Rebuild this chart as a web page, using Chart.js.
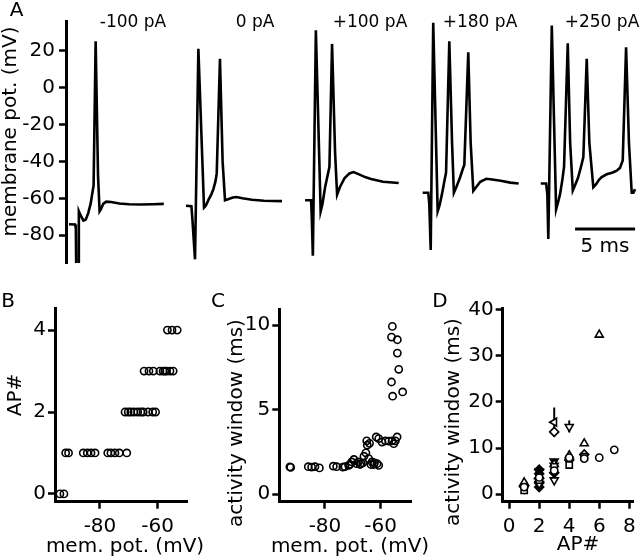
<!DOCTYPE html>
<html><head><meta charset="utf-8">
<script src="https://cdn.jsdelivr.net/npm/chart.js@4"></script>
<style>
html,body{margin:0;padding:0;background:#fff;}
#wrap{position:relative;width:640px;height:559px;overflow:hidden;background:#fff;}
#wrap canvas{position:absolute;left:0;top:0;width:640px;height:559px;}
</style></head><body>
<div id="wrap">
<canvas id="cA" width="640" height="559"></canvas>
<canvas id="cB" width="640" height="559"></canvas>
<canvas id="cC" width="640" height="559"></canvas>
<canvas id="cD" width="640" height="559"></canvas>
</div>
<script>
// ---------------- DATA ----------------
// Panel A: membrane potential traces (time in ms from sweep start, mV)
const currents = ['-100 pA', '0 pA', '+100 pA', '+180 pA', '+250 pA'];
const sweepStartMs = [0.25, 10.0, 19.92, 29.72, 39.56];
const trace1 = [[0,-74],[0.5,-74.2],[0.57,-76],[0.62,-110],[0.78,-110],[0.82,-67],[0.95,-69],[1.2,-72],[1.4,-71.5],[1.6,-68],[1.8,-63],[1.95,-57],[2.05,-53],[2.22,25],[2.42,-48],[2.55,-67],[2.65,-66],[2.85,-63],[3.1,-61.8],[3.5,-62],[4.2,-62.8],[5,-63.2],[6,-63.3],[7,-63.2],[7.9,-63]];
const trace2 = [[0,-64],[0.45,-64.3],[0.52,-70],[0.75,-93],[1.03,21],[1.5,-65],[1.65,-64],[1.86,-61],[2.1,-58],[2.28,-55],[2.45,-51],[2.56,-46.5],[2.83,15.5],[3.05,-40],[3.25,-61],[3.5,-60.5],[3.9,-59.5],[4.2,-59.3],[4.7,-60],[5.5,-60.8],[6.5,-61.3],[8,-61.5]];
const trace3 = [[0,-61],[0.5,-61],[0.55,-68],[0.65,-91],[0.9,31],[1.3,-67],[1.45,-63],[1.67,-54],[1.9,-47],[2.03,-43],[2.25,23.6],[2.5,-35],[2.67,-58],[2.9,-54],[3.3,-49],[3.7,-46.5],[4.03,-45.8],[4.5,-47],[5.0,-48.5],[5.5,-49.5],[6.5,-51],[7.8,-51.7]];
const trace4 = [[0,-57],[0.47,-57],[0.55,-63],[0.67,-88],[0.88,35],[1.25,-67],[1.4,-64],[1.6,-58],[1.8,-51],[1.95,-46],[2.22,25],[2.45,-30],[2.6,-57],[2.8,-54],[3.1,-49],[3.35,-44],[3.47,-42],[3.8,19],[4.0,-30],[4.22,-56],[4.45,-54],[4.8,-51],[5.3,-49.4],[5.8,-49.8],[6.5,-50.5],[7.3,-51.5],[8.0,-52]];
const trace5 = [[0,-52],[0.45,-52],[0.55,-58],[0.63,-82],[0.92,33.5],[1.28,-66],[1.45,-62],[1.6,-58],[1.8,-50],[1.94,-43],[2.25,24],[2.45,-30],[2.67,-55.7],[2.85,-53],[3.1,-49],[3.35,-43],[3.55,-37.7],[3.83,15.5],[4.05,-30],[4.38,-54],[4.6,-52.5],[4.85,-50],[5.08,-48.5],[5.5,-47],[6.0,-46],[6.33,-45],[6.6,-43.5],[6.83,-39.5],[7.11,21.8],[7.35,-30],[7.58,-57],[7.72,-57],[7.86,-55]];
const traces = [trace1, trace2, trace3, trace4, trace5];
const scaleBarMs = 5;
const scaleBarStartMs = 42.42;
const scaleBarMv = -76.6;
const aTicks = [-80, -60, -40, -20, 0, 20];

// Panel B: AP count vs membrane potential
const bVm = [-93.9,-92.5, -91.9,-90.9,-85.8,-84.4,-83.1,-81.7,-77.3,-76.2,-74.8,-73.3,-70.7, -71.3,-70.2,-69.3,-68.2,-66.9,-65.8,-65.0,-63.3,-61.7,-60.7, -64.7,-63.0,-61.5,-59.2,-58.1,-56.9,-55.7,-54.6,-57.5, -56.6,-55.0,-53.2];
const bAP = [0,0, 1,1,1,1,1,1,1,1,1,1,1, 2,2,2,2,2,2,2,2,2,2, 3,3,3,3,3,3,3,3,3, 4,4,4];

// Panel C: activity window vs membrane potential
const cVm = [-92.6,-92.3,-86.0,-84.8,-83.6,-82.0,-77.0,-75.8,-73.6,-72.8,-71.5,-71.0,-70.4,-69.6,-68.6,-68.0,-67.4,-67.0,-66.4,-66.0,-65.3,-64.8,-65.0,-64.0,-64.3,-63.5,-63.1,-62.5,-62.2,-61.3,-60.7,-61.6,-60.7,-59.5,-58.3,-57.1,-55.9,-55.3,-54.7,-54.1,-55.8,-56.1,-54.0,-54.0,-53.5,-56.1,-55.7,-52.1];
const cWin = [1.61,1.58,1.62,1.6,1.62,1.55,1.65,1.62,1.6,1.62,1.7,1.75,1.9,2.05,1.8,1.9,1.75,1.8,1.85,2.24,2.44,2.89,3.15,3.0,2.1,1.75,1.9,1.75,1.85,1.8,1.7,3.38,3.28,3.08,3.15,3.13,3.15,2.98,3.15,3.38,9.92,9.29,9.13,8.34,7.38,6.63,5.79,6.04];

// Panel D: activity window vs AP#, one series per cell (marker type)
const dCircleX = [1,2,3,4,5,6,7];       const dCircleY = [1.5,3.6,5.1,7.9,7.7,7.9,9.6];
const dTriUpX = [1,2,3,4,5,6];          const dTriUpY = [2.5,4.0,6.5,8.4,11.0,34.6];
const dTriDownX = [1,2,3,4];            const dTriDownY = [1.2,2.2,3.0,14.6];
const dSquareX = [1,2,3,4,5];           const dSquareY = [0.8,3.0,5.9,6.3,8.1];
const dDiamondX = [1,2,3,4,5];          const dDiamondY = [1.8,2.6,13.5,7.4,8.6];
const dTriLeftX = [1,2,3];              const dTriLeftY = [1.6,3.3,15.6];
const dFillDiamondX = [2,2,2,2,2,3];    const dFillDiamondY = [5.3,4.4,3.4,2.4,1.5,4.6];
const dFillTriDownX = [2,3,3];          const dFillTriDownY = [4.9,7.1,6.2];
const dErrX = [3, 4];
const dErrLo = [12.4, 13.4];
const dErrHi = [18.8, 16.0];

// ---------------- HELPERS ----------------
const FONT = 'DejaVu Sans';
function pts(xs, ys) { return xs.map((x, i) => ({x: x, y: ys[i]})); }

function axis(min, max, step, size, horiz, pad) {
  return {
    type: 'linear', min: min, max: max,
    border: {display: true, color: '#000', width: 3},
    grid: {display: true, drawOnChartArea: false, drawTicks: true, tickLength: 7, tickWidth: 2.5, color: '#000'},
    ticks: {stepSize: step, includeBounds: false, color: '#000', font: {family: FONT, size: 20},
            padding: pad, maxRotation: 0, autoSkip: false},
    title: {display: false},
    afterFit: function (s) {
      if (horiz) s.height = size; else s.width = size;
      s.paddingLeft = 0; s.paddingRight = 0; s.paddingTop = 0; s.paddingBottom = 0;
    }
  };
}

const textPlugin = {
  id: 'texts',
  afterDraw(chart, args, opts) {
    const ctx = chart.ctx;
    (opts.items || []).forEach(it => {
      ctx.save();
      ctx.fillStyle = '#000';
      ctx.font = (it.size || 20) + 'px "' + FONT + '"';
      ctx.textAlign = 'center';
      ctx.textBaseline = 'middle';
      ctx.translate(it.x, it.y);
      if (it.rot) ctx.rotate(it.rot * Math.PI / 180);
      ctx.fillText(it.t, 0, 0);
      ctx.restore();
    });
  }
};

const scaleBarPlugin = {
  id: 'scaleBar',
  afterDatasetsDraw(chart) {
    const xs = chart.scales.x, ys = chart.scales.y, ctx = chart.ctx;
    const x0 = xs.getPixelForValue(scaleBarStartMs);
    const x1 = xs.getPixelForValue(scaleBarStartMs + scaleBarMs);
    const y = ys.getPixelForValue(scaleBarMv);
    ctx.save();
    ctx.strokeStyle = '#000'; ctx.lineWidth = 3; ctx.lineCap = 'butt';
    ctx.beginPath(); ctx.moveTo(x0, y); ctx.lineTo(x1, y); ctx.stroke();
    ctx.restore();
  }
};

const errPlugin = {
  id: 'errBars',
  beforeDatasetsDraw(chart) {
    const xs = chart.scales.x, ys = chart.scales.y, ctx = chart.ctx;
    ctx.save();
    ctx.strokeStyle = '#000'; ctx.lineWidth = 2;
    dErrX.forEach((x, i) => {
      const px = xs.getPixelForValue(x);
      ctx.beginPath();
      ctx.moveTo(px, ys.getPixelForValue(dErrLo[i]));
      ctx.lineTo(px, ys.getPixelForValue(dErrHi[i]));
      ctx.stroke();
    });
    ctx.restore();
  }
};

const baseOpts = {animation: false, responsive: false, events: []};

// ---------------- PANEL A ----------------
new Chart(document.getElementById('cA'), {
  type: 'line',
  data: {
    datasets: traces.map((tr, i) => ({
      data: tr.map(p => ({x: p[0] + sweepStartMs[i], y: p[1]})),
      borderColor: '#000', borderWidth: 2.6, pointRadius: 0, fill: false, tension: 0,
      borderJoinStyle: 'miter'
    }))
  },
  options: Object.assign({}, baseOpts, {
    layout: {padding: {left: 6, right: 0, top: 21, bottom: 296}},
    scales: {
      x: {type: 'linear', display: false, min: 0, max: 47.83},
      y: Object.assign(axis(-95, 36, 20, 60, false, 4), {
        afterBuildTicks: s => { s.ticks = aTicks.map(v => ({value: v})); }
      })
    },
    plugins: {
      legend: {display: false}, tooltip: {enabled: false},
      texts: {items: [
        {t: 'A', x: 16.5, y: 11, size: 20},
        {t: 'membrane pot. (mV)', x: 11, y: 131.5, size: 20, rot: -90},
        {t: currents[0], x: 133, y: 23, size: 17},
        {t: currents[1], x: 255, y: 23, size: 17},
        {t: currents[2], x: 370, y: 23, size: 17},
        {t: currents[3], x: 480, y: 23, size: 17},
        {t: currents[4], x: 602, y: 23, size: 17},
        {t: scaleBarMs + ' ms', x: 605, y: 247, size: 20}
      ]}
    }
  }),
  plugins: [textPlugin, scaleBarPlugin]
});

// ---------------- PANEL B ----------------
const openCircle = {pointStyle: 'circle', pointRadius: 3.6, pointBorderWidth: 1.6,
  pointBorderColor: '#000', pointBackgroundColor: 'rgba(0,0,0,0)', showLine: false};

new Chart(document.getElementById('cB'), {
  type: 'scatter',
  data: {datasets: [Object.assign({data: pts(bVm, bAP)}, openCircle)]},
  options: Object.assign({}, baseOpts, {
    layout: {padding: {left: 5, right: 452.7, top: 308, bottom: 17.3}},
    scales: {
      x: axis(-95.6, -49.7, 20, 40, true, 6),
      y: axis(-0.19, 4.54, 2, 50, false, 2)
    },
    plugins: {
      legend: {display: false}, tooltip: {enabled: false},
      texts: {items: [
        {t: 'B', x: 8, y: 302, size: 20},
        {t: 'AP#', x: 15.5, y: 395, size: 20, rot: -90},
        {t: 'mem. pot. (mV)', x: 125, y: 546.5, size: 20}
      ]}
    }
  }),
  plugins: [textPlugin]
});

// ---------------- PANEL C ----------------
new Chart(document.getElementById('cC'), {
  type: 'scatter',
  data: {datasets: [Object.assign({data: pts(cVm, cWin)}, openCircle)]},
  options: Object.assign({}, baseOpts, {
    layout: {padding: {left: 229.3, right: 229, top: 309.3, bottom: 17.3}},
    scales: {
      x: axis(-96.4, -49.1, 20, 40, true, 6),
      y: axis(-0.45, 10.93, 5, 50, false, 2)
    },
    plugins: {
      legend: {display: false}, tooltip: {enabled: false},
      texts: {items: [
        {t: 'C', x: 218, y: 302, size: 20},
        {t: 'activity window (ms)', x: 236.5, y: 423, size: 20, rot: -90},
        {t: 'mem. pot. (mV)', x: 350, y: 546.5, size: 20}
      ]}
    }
  }),
  plugins: [textPlugin]
});

// ---------------- PANEL D ----------------
function dSet(xs, ys, style, rot, fill, r) {
  return {data: pts(xs, ys), showLine: false, pointStyle: style, pointRotation: rot,
    pointRadius: r, pointBorderWidth: 1.6, pointBorderColor: '#000',
    pointBackgroundColor: fill};
}
new Chart(document.getElementById('cD'), {
  type: 'scatter',
  data: {datasets: [
    dSet(dCircleX, dCircleY, 'circle', 0, '#fff', 3.6),
    dSet(dSquareX, dSquareY, 'rect', 0, '#fff', 4.4),
    dSet(dTriUpX, dTriUpY, 'triangle', 0, '#fff', 4.6),
    dSet(dTriDownX, dTriDownY, 'triangle', 180, '#fff', 4.6),
    dSet(dDiamondX, dDiamondY, 'rectRot', 0, '#fff', 4.5),
    dSet(dTriLeftX, dTriLeftY, 'triangle', -90, '#fff', 4.6),
    dSet(dFillDiamondX, dFillDiamondY, 'rectRot', 0, '#000', 4.5),
    dSet(dFillTriDownX, dFillTriDownY, 'triangle', 180, '#000', 4.6)
  ]},
  options: Object.assign({}, baseOpts, {
    layout: {padding: {left: 452.7, right: 2, top: 308, bottom: 17.3}},
    scales: {
      x: axis(-0.43, 8.3, 2, 40, true, 6),
      y: axis(-1.67, 40.43, 10, 50, false, 2)
    },
    plugins: {
      legend: {display: false}, tooltip: {enabled: false},
      texts: {items: [
        {t: 'D', x: 440, y: 302, size: 20},
        {t: 'activity window (ms)', x: 454, y: 422, size: 20, rot: -90},
        {t: 'AP#', x: 578, y: 545, size: 20}
      ]}
    }
  }),
  plugins: [textPlugin, errPlugin]
});
</script>
</body></html>
